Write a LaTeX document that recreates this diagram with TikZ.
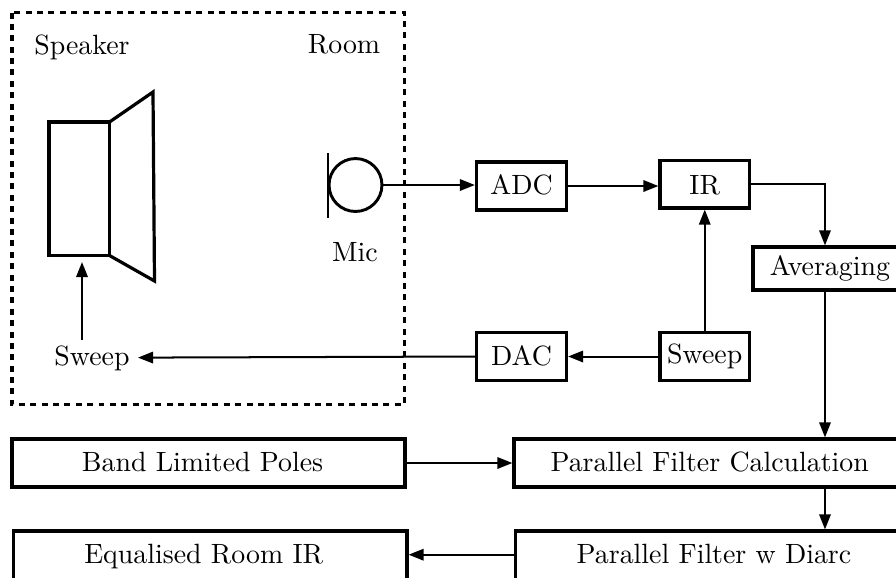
\documentclass[tikz,border=0pt]{standalone}
\usetikzlibrary{arrows.meta}
\def\uu{0.359}
\tikzset{
  box/.style={draw,line width=1.15pt,rectangle,inner sep=0pt,text height=7.2pt,text depth=0.75pt},
  lbl/.style={inner sep=0pt,anchor=base},
  conn/.style={line width=0.72pt,-{Triangle[length=5.4pt,width=4.1pt]}},
  plain/.style={line width=1.15pt},
  thinp/.style={line width=1.05pt},
}
\newcommand{\pbox}[7][]{\node[box,minimum width={(#5-#3)*\uu*1pt},minimum height={(#6-#4)*\uu*1pt},#1] (#2) at ({(#3+#5)/2},{(#4+#6)/2}) {#7};}
\begin{document}
\begin{tikzpicture}[x=0.359pt,y=-0.359pt]
\useasboundingbox (0,0) rectangle (896,577);
\clip (0,0) rectangle (896,577);
% room
\draw[plain,dash pattern=on 2.15pt off 1.94pt] (12,12.5) rectangle (404.5,404.5);
% speaker
\draw[plain] (49,122) rectangle (109.5,255.5);
\draw[plain] (109.5,122) -- (153,92) -- (154.5,281) -- (109.5,255.5);
% mic
\node[draw,circle,thinp,minimum size=19pt,inner sep=0pt] (mic) at (355.5,185) {};
\draw[thinp] (328,153) -- (328,217.5);
% labels
\node[lbl] (speaker) at (82,54) {Speaker};
\node[lbl] (room) at (344,53.5) {Room};
\node[lbl] (miclbl) at (355,261.5) {Mic};
\node[lbl] (sweepa) at (92,365.5) {Sweep};
% boxes
\pbox{adc}{476.5}{162}{566.5}{210}{ADC}
\pbox[text height=8.2pt,text depth=0.5pt]{ir}{660}{160.5}{749.5}{208}{IR}
\pbox[text height=6.5pt,text depth=1.33pt]{avg}{753}{247}{907}{290}{Averaging}
\pbox{dac}{476.5}{332.5}{566.5}{380.5}{DAC}
\pbox[text height=6.5pt,text depth=1.83pt]{sweepb}{660}{332.5}{749.5}{380.5}{Sweep}
\pbox{pfc}{514}{439}{905.4}{487}{Parallel Filter Calculation}
\pbox[text height=6.5pt,text depth=1pt]{pfd}{515.5}{531}{912.5}{580.2}{Parallel Filter w Diarc}
\pbox{blp}{12}{439}{405}{487}{Band Limited Poles\hspace*{4.3pt}}
\pbox[text height=6.5pt,text depth=1pt]{eri}{13.5}{531}{407}{580.2}{Equalised Room IR\hspace*{4.7pt}}
% connector helpers
\coordinate (col) at (825,0);
\coordinate (sweepin) at (138,357.6);
\coordinate (spkin) at (82,262);
\coordinate (sweepout) at (82,340);
\coordinate (rowd) at (0,554.7);
% connectors
\draw[conn] (mic.east) -- (adc.west |- mic.east);
\draw[conn] (adc.east) -- (ir.west |- adc.east);
\draw[conn] (ir.east) -| (avg.north -| col);
\draw[conn] (sweepb.north) -- (ir.south);
\draw[conn] (sweepb.west) -- (dac.east);
\draw[conn] (dac.west) -- (sweepin);
\draw[conn] (sweepout) -- (spkin);
\draw[conn] (avg.south -| col) -- (pfc.north -| col);
\draw[conn] (pfc.south -| col) -- (pfd.north -| col);
\draw[conn] (blp.east) -- (pfc.west |- blp.east);
\draw[conn] (pfd.west |- rowd) -- (eri.east |- rowd);
\end{tikzpicture}
\end{document}
